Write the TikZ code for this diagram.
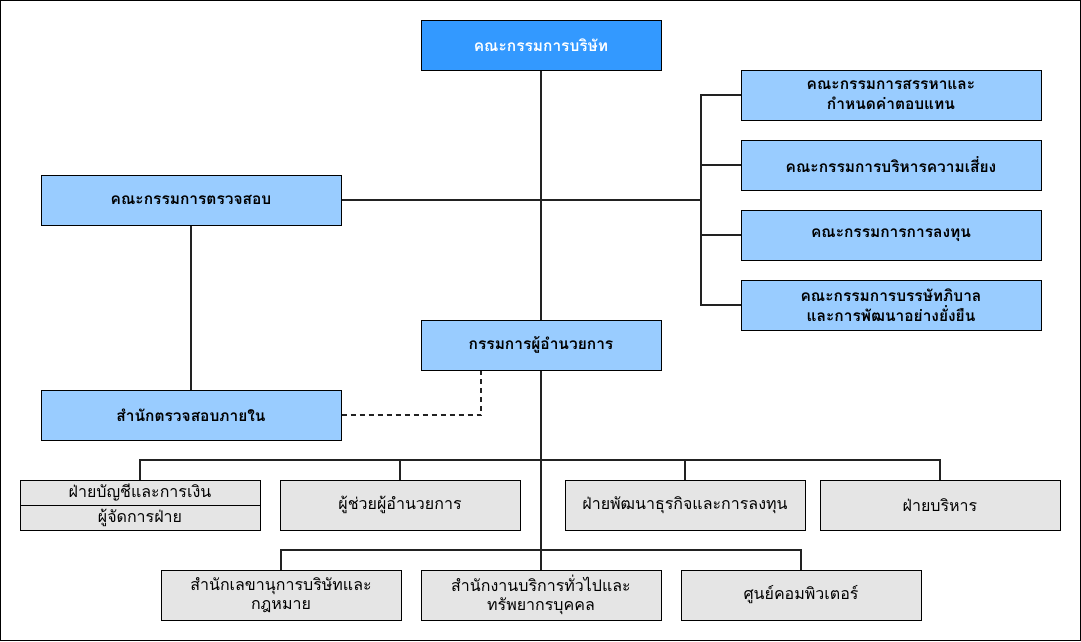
\documentclass[tikz,border=0pt]{standalone}
\usepackage{fontspec}
\newfontfamily\thaifont[Script=Thai]{Loma}
\definecolor{topblue}{HTML}{3399FF}
\definecolor{liteblue}{HTML}{99CCFF}
\definecolor{boxgray}{HTML}{E5E5E5}
\definecolor{linegray}{HTML}{222222}
\begin{document}
\begin{tikzpicture}[x=1pt,y=-1pt,
  base/.style={draw=black,line width=1pt,minimum width=240pt,minimum height=50pt,inner sep=0pt,align=center,
    font=\thaifont\fontsize{16}{19.5}\selectfont},
  boardbox/.style={base,fill=topblue,text=white,font=\thaifont\bfseries\fontsize{15.5}{19.5}\selectfont},
  bluebox/.style={base,fill=liteblue,font=\thaifont\bfseries\fontsize{15.5}{19.5}\selectfont},
  widebox/.style={bluebox,minimum width=300pt},
  graybox/.style={base,fill=boxgray},
  halfbox/.style={graybox,minimum height=25pt},
  conn/.style={draw=linegray,line width=1.6pt},
  dashconn/.style={draw=linegray,line width=1.5pt,dash pattern=on 5pt off 4pt}]
\useasboundingbox (0,0) rectangle (1081,641);
\draw[line width=1pt] (0.5,0.5) rectangle (1080.5,640.5);
% nodes
\node[boardbox] (board) at (541,45) {คณะกรรมการบริษัท};
\node[widebox] (c1) at (891,95) {คณะกรรมการสรรหาและ\\กำหนดค่าตอบแทน};
\node[widebox] (c2) at (891,165) {คณะกรรมการบริหารความเสี่ยง};
\node[widebox] (c3) at (891,235) {คณะกรรมการการลงทุน};
\node[widebox] (c4) at (891,305) {คณะกรรมการบรรษัทภิบาล\\และการพัฒนาอย่างยั่งยืน};
\node[widebox] (audit) at (191,200) {คณะกรรมการตรวจสอบ};
\node[widebox] (ia) at (191,415) {สำนักตรวจสอบภายใน};
\node[bluebox] (dir) at (541,345) {กรรมการผู้อำนวยการ};
\node[halfbox] (acc1) at (140,492.5) {ฝ่ายบัญชีและการเงิน};
\node[halfbox] (acc2) at (140,517.5) {ผู้จัดการฝ่าย};
\node[graybox] (asst) at (400,505) {ผู้ช่วยผู้อำนวยการ};
\node[graybox] (biz) at (685,505) {ฝ่ายพัฒนาธุรกิจและการลงทุน};
\node[graybox] (adm) at (940,505) {ฝ่ายบริหาร};
\node[graybox] (sec) at (281,595) {สำนักเลขานุการบริษัทและ\\กฎหมาย};
\node[graybox] (svc) at (541,595) {สำนักงานบริการทั่วไปและ\\ทรัพยากรบุคคล};
\node[graybox] (comp) at (801,595) {ศูนย์คอมพิวเตอร์};
% junction coordinates
\coordinate (brk) at (701,200);
\coordinate (bus1) at (541,460);
\coordinate (bus2) at (541,550);
\coordinate (dash) at (481,415);
% connectors
\draw[conn] (board.south) -- (dir.north);
\draw[conn] (audit.east) -- (brk);
\draw[conn] (c1.west) -- (c1.west -| brk) |- (c4.west);
\draw[conn] (c2.west) -- (c2.west -| brk);
\draw[conn] (c3.west) -- (c3.west -| brk);
\draw[conn] (audit.south) -- (ia.north);
\draw[dashconn] (ia.east) -| (dir.south -| dash);
\draw[conn] (dir.south) -- (svc.north);
\draw[conn] (acc1.north) |- (bus1) -| (adm.north);
\draw[conn] (asst.north) -- (asst.north |- bus1);
\draw[conn] (biz.north) -- (biz.north |- bus1);
\draw[conn] (sec.north) |- (bus2) -| (comp.north);
\end{tikzpicture}
\end{document}
